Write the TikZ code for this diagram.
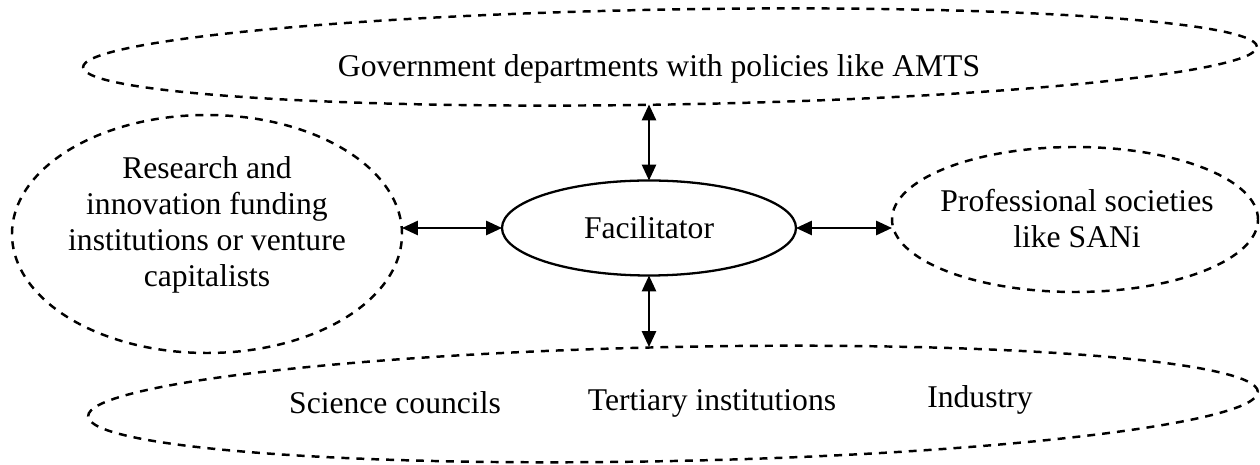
\documentclass[tikz,border=0pt]{standalone}
\usepackage{fontspec}
\setmainfont{Liberation Serif}
\usetikzlibrary{arrows.meta,shapes.geometric}

\begin{document}
\begin{tikzpicture}[
    x=1cm,y=1cm,
    >={Triangle[length=9pt,width=8pt]},
    font=\fontsize{18}{20.5}\selectfont,
    group/.style={
        ellipse,
        draw,
        dash pattern=on 4.5pt off 4pt,
        line width=1.4pt,
        inner sep=0pt,
        outer sep=0pt
    },
    hub/.style={
        ellipse,
        draw,
        line width=1.3pt,
        inner sep=0pt,
        outer sep=0pt,
        minimum width=5.88cm,
        minimum height=1.9cm
    },
    link/.style={<->, line width=1.3pt},
    words/.style={align=center, inner sep=0pt}
]

\useasboundingbox (0,0) rectangle (25.2,9.3);

\node[group, minimum width=23.48cm, minimum height=1.9cm, rotate=1] (gov) at (13.40,8.16) {};
\node[group, minimum width=7.80cm, minimum height=4.76cm] (fund) at (4.14,4.62) {};
\node[group, minimum width=7.32cm, minimum height=2.90cm] (prof) at (21.50,4.91) {};
\node[group, minimum width=23.40cm, minimum height=2.28cm, rotate=1.2] (sector) at (13.46,1.22) {};

\node[hub] (fac) at (12.98,4.74) {Facilitator};

\node[words] (govtext) at (13.18,7.93) {Government departments with policies like AMTS};
\node[words] (fundtext) at (4.14,4.80) {Research and\\innovation funding\\institutions or venture\\capitalists};
\node[words] (proftext) at (21.54,4.93) {Professional societies\\like SANi};

\node[words] (science) at (7.90,1.256) {Science councils};
\node[words] (tertiary) at (14.24,1.228) {Tertiary institutions};
\node[words] (industry) at (19.60,1.308) {Industry};

\draw[link] (fac.north) -- (fac.north |- gov.south);
\draw[link] (fac.south) -- (fac.south |- sector.north);
\draw[link] (fac.west) -- (fac.west -| fund.east);
\draw[link] (fac.east) -- (fac.east -| prof.west);

\end{tikzpicture}
\end{document}
